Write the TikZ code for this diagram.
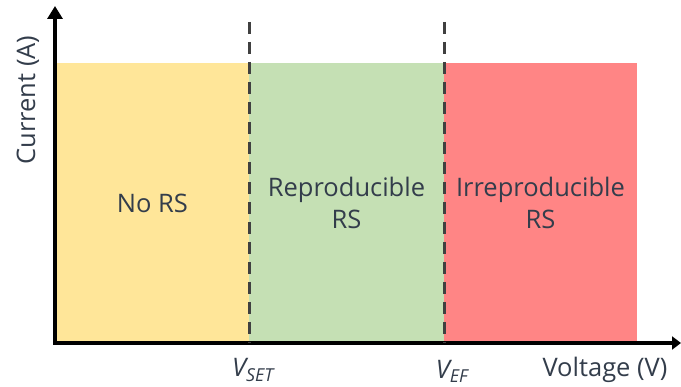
\documentclass[tikz,border=0pt]{standalone}
\usepackage{fontspec}
\setmainfont{Open Sans}
\usetikzlibrary{arrows.meta}
\definecolor{txt}{HTML}{333D4B}
\definecolor{norsfill}{HTML}{FFE699}
\definecolor{repfill}{HTML}{C5E0B4}
\definecolor{irrfill}{HTML}{FF8585}
\definecolor{dashcol}{HTML}{404040}
\begin{document}
\begin{tikzpicture}[x=1pt, y=-1pt, font=\fontsize{25.5}{32}\selectfont, text=txt]
      \useasboundingbox (0,0) rectangle (681,387);

      % Regions
      \node[fill=norsfill, draw=none, minimum width=193pt, minimum height=280pt, inner sep=0pt, align=center] at (152.5, 203) (nors) {No RS};
      \node[fill=repfill, draw=none, minimum width=195pt, minimum height=280pt, inner sep=0pt, align=center] at (346.5, 203) (rep) {Reproducible\\RS};
      \node[fill=irrfill, draw=none, minimum width=193pt, minimum height=280pt, inner sep=0pt, align=center] at (540.5, 203) (irr) {Irreproducible\\RS};

      % Axes
      \coordinate (o) at (55, 343);
      \coordinate (ytop) at (55, 6);
      \coordinate (xend) at (681, 343);
      \draw[line width=4pt, -{Triangle[length=13pt, width=15pt]}] (o.center) -- (ytop);
      \draw[line width=4pt, -{Triangle[length=9pt, width=13pt]}, shorten <=-2pt] (o.center) -- (xend);

      % Thresholds
      \coordinate (set top) at (249, 22);
      \coordinate (set bot) at (249, 343);
      \coordinate (ef top) at (444, 22);
      \coordinate (ef bot) at (444, 343);
      \draw[dashcol, line width=3pt, dash pattern=on 12pt off 8pt] (set top) -- (set bot);
      \draw[dashcol, line width=3pt, dash pattern=on 12pt off 8pt] (ef top) -- (ef bot);

      % Labels
      \node[rotate=90] at (28, 100) (ylab) {Current (A)};
      \node at (605, 370) (xlab) {Voltage (V)};
      \node at (253, 370) (vset) {\itshape V\textsubscript{SET}};
      \node at (452, 371) (vef) {\itshape V\textsubscript{EF}};
    \end{tikzpicture}
\end{document}
